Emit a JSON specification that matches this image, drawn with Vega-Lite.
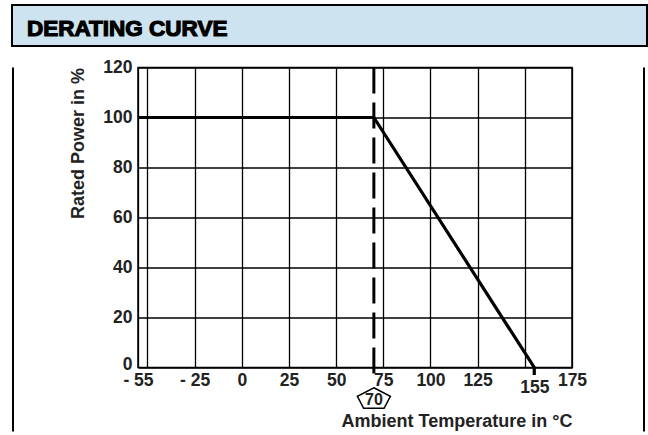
{
  "$schema": "https://vega.github.io/schema/vega-lite/v6.json",
  "padding": {"left": 11, "top": 4, "right": 0, "bottom": 0},
  "background": "white",
  "config": {
    "font": "Liberation Sans",
    "view": {"stroke": null},
    "axis": {"labelFont": "Liberation Sans", "titleFont": "Liberation Sans"}
  },
  "spacing": 10.5,
  "vconcat": [
    {
      "width": 635,
      "height": 41,
      "view": {"fill": "#cde4f0", "stroke": "black", "strokeWidth": 2},
      "data": {"values": [{"label": "DERATING CURVE"}]},
      "mark": {"type": "text", "align": "left", "baseline": "middle", "dx": 15, "dy": 3, "fontSize": 22.5, "fontWeight": "bold", "color": "black", "stroke": "black", "strokeWidth": 1.2},
      "encoding": {
        "text": {"field": "label"},
        "x": {"datum": 0, "type": "quantitative", "scale": {"domain": [0, 1]}, "axis": null}
      }
    },
    {
      "concat": [
        {
          "width": 2,
          "height": 364,
          "data": {"values": [{}]},
          "mark": {"type": "rect", "color": "black"}
        },
        {
          "width": 434,
          "height": 300,
          "view": {"stroke": "black", "strokeWidth": 1.5},
          "layer": [
            {
              "data": {"values": [
                {"temp": -55, "power": 100, "o": 1},
                {"temp": 70, "power": 100, "o": 2},
                {"temp": 155, "power": 0, "o": 3},
                {"temp": 155, "power": -3, "o": 4}
              ]},
              "mark": {"type": "line", "color": "black", "strokeWidth": 3.2},
              "encoding": {
                "order": {"field": "o", "type": "quantitative"},
                "x": {
                  "field": "temp", "type": "quantitative",
                  "scale": {"domain": [-55, 175], "nice": false, "zero": false},
                  "axis": {
                    "values": [-55, -50, -25, 0, 25, 50, 75, 100, 125, 150, 155, 175],
                    "tickCount": 30,
                    "labelExpr": "datum.value == -50 || datum.value == 150 ? '' : (datum.value < 0 ? '- ' + abs(datum.value) : datum.label)",
                    "grid": true, "gridColor": "black", "gridWidth": 1.3,
                    "gridOpacity": {"condition": {"test": "datum.value == 155", "value": 0}, "value": 1},
                    "ticks": false, "tickSize": 0, "domain": false,
                    "labelFontSize": 17.5, "labelFontWeight": "bold", "labelColor": "#222",
                    "labelPadding": {"condition": {"test": "datum.value == 155", "value": 11}, "value": 4},
                    "labelOverlap": false, "labelFlush": false, "labelBound": false,
                    "title": "Ambient Temperature in °C",
                    "titleFontSize": 18, "titleFontWeight": "bold", "titleColor": "#222",
                    "titleAnchor": "end", "titleY": 45, "titleBaseline": "top"
                  }
                },
                "y": {
                  "field": "power", "type": "quantitative",
                  "scale": {"domain": [0, 120], "nice": false},
                  "axis": {
                    "values": [0, 20, 40, 60, 80, 100, 120],
                    "tickCount": 30,
                    "grid": true, "gridColor": "black", "gridWidth": 1.3,
                    "ticks": false, "tickSize": 0, "domain": false,
                    "labelFontSize": 17.5, "labelFontWeight": "bold", "labelColor": "#222",
                    "labelPadding": 6, "labelOverlap": false, "labelBound": false,
                    "labelOffset": {"condition": {"test": "datum.value == 0", "value": -3}, "value": 0},
                    "title": "Rated Power in %",
                    "titleFontSize": 18, "titleFontWeight": "bold", "titleColor": "#222",
                    "titleAnchor": "end", "titlePadding": 15
                  }
                }
              }
            },
            {
              "data": {"values": [{"temp": 70}]},
              "mark": {"type": "rule", "color": "black", "strokeWidth": 3, "strokeDash": [26, 9]},
              "encoding": {
                "x": {"field": "temp", "type": "quantitative"},
                "y": {"datum": 120},
                "y2": {"datum": -3.8}
              }
            },
            {
              "data": {"values": [{"temp": 70, "label": "70"}]},
              "mark": {"type": "point", "shape": "M0,-0.62 L1,-0.1 L0.62,0.62 L-0.62,0.62 L-1,-0.1 Z", "size": 1089, "filled": true, "fill": "white", "stroke": "black", "strokeWidth": 1.5, "opacity": 1},
              "encoding": {
                "x": {"field": "temp", "type": "quantitative"},
                "y": {"datum": -12.2}
              }
            },
            {
              "data": {"values": [{"temp": 70, "label": "70"}]},
              "mark": {"type": "text", "fontSize": 16, "fontWeight": "bold", "color": "#222", "baseline": "middle", "align": "center"},
              "encoding": {
                "x": {"field": "temp", "type": "quantitative"},
                "y": {"datum": -12.8},
                "text": {"field": "label"}
              }
            }
          ]
        },
        {
          "width": 2,
          "height": 364,
          "data": {"values": [{}]},
          "mark": {"type": "rect", "color": "black"}
        }
      ],
      "columns": 3,
      "align": "none",
      "spacing": 55
    }
  ]
}
